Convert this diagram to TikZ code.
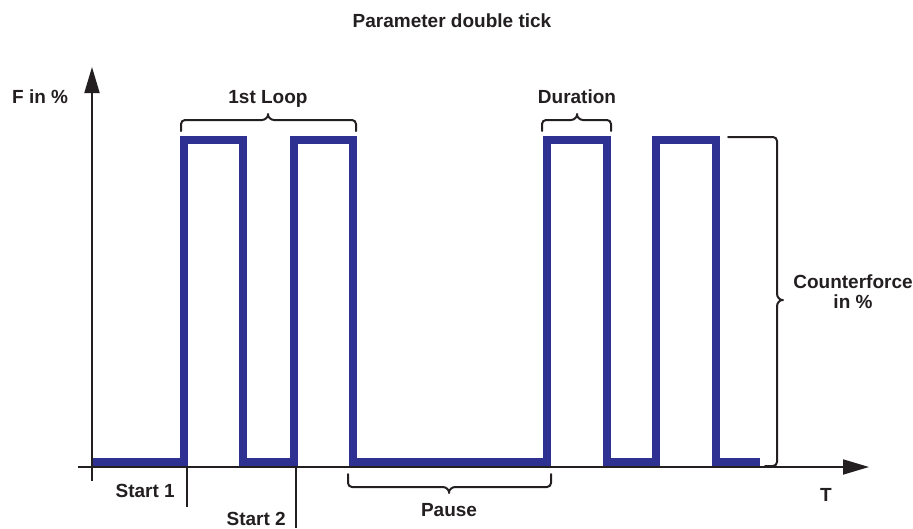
\documentclass[tikz,border=0pt]{standalone}
\usepackage{fontspec}
\setmainfont{Liberation Sans}
\usetikzlibrary{arrows.meta}
\definecolor{sig}{HTML}{2E3192}
\definecolor{ink}{HTML}{231F20}
\begin{document}
\begin{tikzpicture}[x=1pt,y=-1pt,
 lbl/.style={font=\fontsize{19}{19.5}\selectfont\bfseries, text=ink, inner sep=0pt},
 axis/.style={draw=ink, line width=1.8pt},
 brc/.style={draw=ink, line width=2pt, rounded corners=4pt, line cap=round},
 signal/.style={draw=sig, line width=8pt, line join=miter},
 tip/.style={-{Triangle[length=26pt,width=15pt]}}]
\useasboundingbox (0,0) rectangle (913,528);
% axes
\coordinate (ybot) at (92,481);
\coordinate (ytop) at (92,67);
\coordinate (xl) at (78,467);
\coordinate (xr) at (869,467);
\draw[axis,tip] (ybot) -- (ytop);
\draw[axis,tip] (xl) -- (xr);
% start ticks
\coordinate (s1a) at (187,467);
\coordinate (s1b) at (187,507);
\coordinate (s2a) at (296,467);
\coordinate (s2b) at (296,528);
\draw[axis] (s1a) -- (s1b);
\draw[axis] (s2a) -- (s2b);
% signal
\draw[signal] (93,462) -- (184,462) -- (184,140) -- (243,140) -- (243,462)
  -- (294,462) -- (294,140) -- (353,140) -- (353,462)
  -- (547,462) -- (547,140) -- (607,140) -- (607,462)
  -- (656,462) -- (656,140) -- (716,140) -- (716,462) -- (760,462);
% braces
\draw[brc] (181,131) -- (181,120) -- (258,120) .. controls (265,120) and (268,117) .. (268,111)
  .. controls (268,117) and (271,120) .. (278,120) -- (356,120) -- (356,131);
\draw[brc] (542,131) -- (542,120) -- (567,120) .. controls (574,120) and (577,117) .. (577,111)
  .. controls (577,117) and (580,120) .. (587,120) -- (611,120) -- (611,131);
\draw[brc] (348,474) -- (348,487) -- (439,487) .. controls (446,487) and (449,490) .. (449,496)
  .. controls (449,490) and (452,487) .. (459,487) -- (551,487) -- (551,474);
\draw[brc] (728,137) -- (777,137) -- (777,290) .. controls (777,297) and (780,300) .. (786,300)
  .. controls (780,300) and (777,303) .. (777,310) -- (777,466) -- (765,466);
% labels
\node[lbl, anchor=base] (title) at (452,27) {Parameter double tick};
\node[lbl, anchor=base west] (fy) at (12,103) {F in \%};
\node[lbl, anchor=base] (loop) at (268,103) {1st Loop};
\node[lbl, anchor=base] (dur) at (577,103) {Duration};
\node[lbl, anchor=base east] (st1) at (175,497) {Start 1};
\node[lbl, anchor=base east] (st2) at (286,525) {Start 2};
\node[lbl, anchor=base] (pause) at (449,516) {Pause};
\node[lbl, anchor=base] (tl) at (826,501) {T};
\node[lbl, align=center, anchor=north] (cf) at (853,275) {Counterforce\\in \%};
\end{tikzpicture}
\end{document}
